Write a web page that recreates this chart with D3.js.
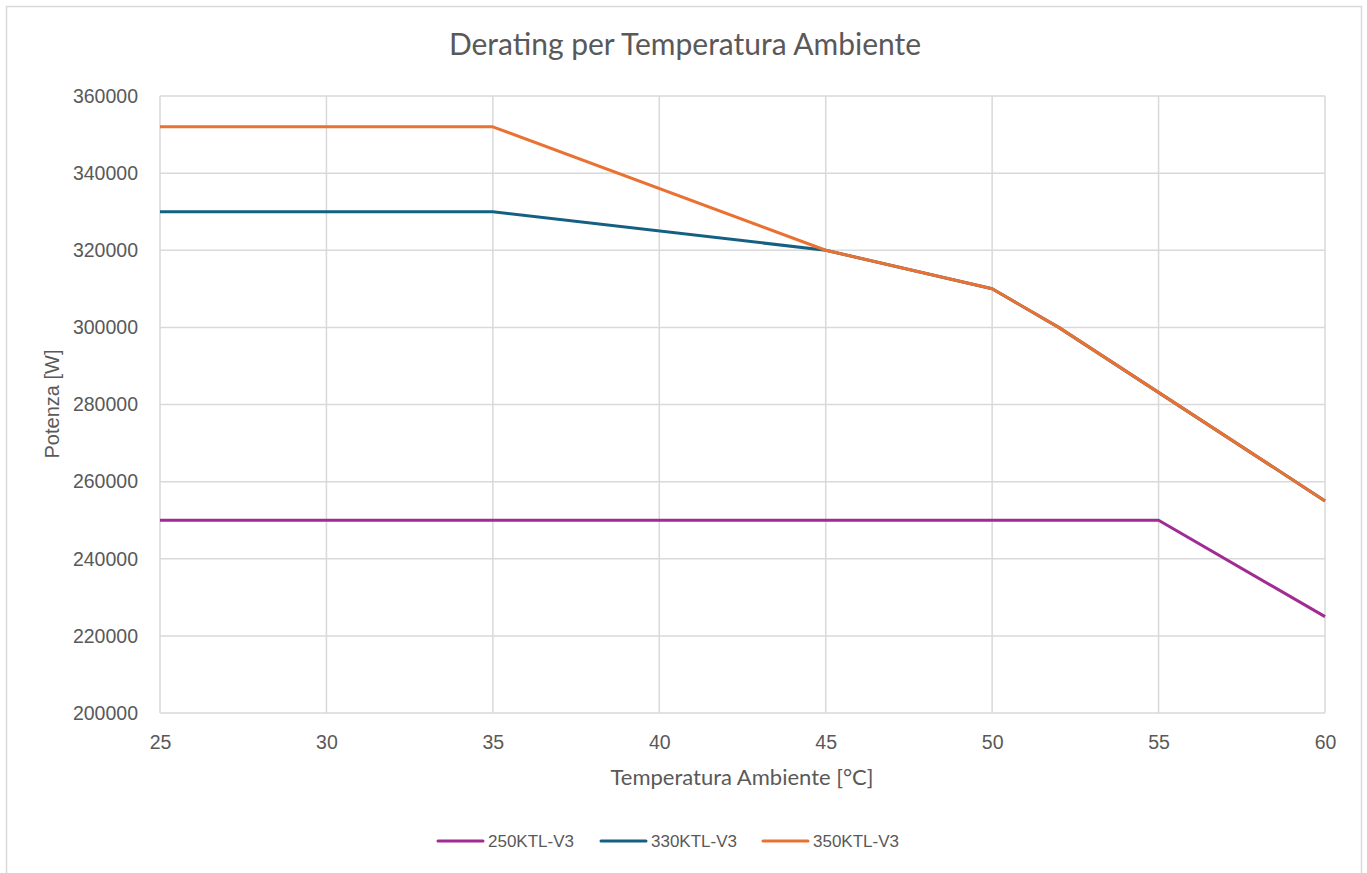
<!DOCTYPE html>
<html>
<head>
<meta charset="utf-8">
<script src="https://cdn.jsdelivr.net/npm/d3@7"></script>
<style>
  body { margin: 0; background: #fff; }
  svg { display: block; }
</style>
</head>
<body>
<svg id="chart" width="1367" height="873"></svg>
<script>
// data
const temps250 = [25, 55, 60];
const power250 = [250000, 250000, 225000];
const temps330 = [25, 35, 45, 50, 52, 60];
const power330 = [330000, 330000, 320000, 310000, 300000, 255000];
const temps350 = [25, 35, 45, 50, 52, 60];
const power350 = [352000, 352000, 320000, 310000, 300000, 255000];
const seriesNames = ["250KTL-V3", "330KTL-V3", "350KTL-V3"];
const xTicks = [25, 30, 35, 40, 45, 50, 55, 60];
const yTicks = [200000, 220000, 240000, 260000, 280000, 300000, 320000, 340000, 360000];

const colors = ["#A02B93", "#156082", "#E97132"];
const textCol = "#595959";
const gridCol = "#d9d9d9";
const font = "'Liberation Sans', Arial, sans-serif";
const titleFont = "Lato, 'Open Sans', sans-serif";

const svg = d3.select("#chart");
const plot = {left: 160, right: 1325, top: 96, bottom: 713};

// outer frame (bottom edge runs off the picture)
svg.append("rect")
  .attr("x", 6.5).attr("y", 6.5)
  .attr("width", 1355).attr("height", 880)
  .attr("fill", "#fff").attr("stroke", gridCol).attr("stroke-width", 1.5);

const x = d3.scaleLinear().domain([25, 60]).range([plot.left, plot.right]);
const y = d3.scaleLinear().domain([200000, 360000]).range([plot.bottom, plot.top]);

// gridlines
svg.append("g")
  .selectAll("line")
  .data(yTicks)
  .enter().append("line")
  .attr("x1", plot.left).attr("x2", plot.right)
  .attr("y1", d => y(d)).attr("y2", d => y(d))
  .attr("stroke", gridCol).attr("stroke-width", 1.5);

svg.append("g")
  .selectAll("line")
  .data(xTicks)
  .enter().append("line")
  .attr("x1", d => x(d)).attr("x2", d => x(d))
  .attr("y1", plot.top).attr("y2", plot.bottom)
  .attr("stroke", gridCol).attr("stroke-width", 1.5);

// axes (labels only, no domain)
const xAxis = svg.append("g")
  .attr("transform", `translate(0,${plot.bottom})`)
  .call(d3.axisBottom(x).tickValues(xTicks).tickSize(0).tickPadding(22));
const yAxis = svg.append("g")
  .attr("transform", `translate(${plot.left},0)`)
  .call(d3.axisLeft(y).tickValues(yTicks).tickSize(0).tickPadding(22).tickFormat(d3.format("d")));
[xAxis, yAxis].forEach(a => {
  a.select(".domain").remove();
  a.selectAll("text")
    .attr("fill", textCol)
    .style("font-family", font)
    .style("font-size", "19.5px");
});

// series lines
const line = d3.line().x(d => x(d[0])).y(d => y(d[1]));
const series = [
  d3.zip(temps250, power250),
  d3.zip(temps330, power330),
  d3.zip(temps350, power350)
];
series.forEach((s, i) => {
  svg.append("path")
    .datum(s)
    .attr("d", line)
    .attr("fill", "none")
    .attr("stroke", colors[i])
    .attr("stroke-width", 3)
    .attr("stroke-linejoin", "round");
});

// titles
svg.append("text")
  .attr("x", 685).attr("y", 55)
  .attr("text-anchor", "middle")
  .attr("fill", textCol)
  .style("font-family", titleFont)
  .style("font-size", "30px")
  .text("Derating per Temperatura Ambiente");

svg.append("text")
  .attr("x", 742).attr("y", 785)
  .attr("text-anchor", "middle")
  .attr("fill", textCol)
  .style("font-family", titleFont)
  .style("font-size", "22px")
  .text("Temperatura Ambiente [°C]");

svg.append("text")
  .attr("transform", "translate(59,404) rotate(-90)")
  .attr("text-anchor", "middle")
  .attr("fill", textCol)
  .style("font-family", font)
  .style("font-size", "20px")
  .text("Potenza [W]");

// legend
const legendX = [438, 601, 763];
const legend = svg.append("g");
seriesNames.forEach((name, i) => {
  legend.append("line")
    .attr("x1", legendX[i]).attr("x2", legendX[i] + 45)
    .attr("y1", 841).attr("y2", 841)
    .attr("stroke", colors[i]).attr("stroke-width", 3)
    .attr("stroke-linecap", "round");
  legend.append("text")
    .attr("x", legendX[i] + 50).attr("y", 847)
    .attr("fill", textCol)
    .style("font-family", font)
    .style("font-size", "17px")
    .text(name);
});
</script>
</body>
</html>
